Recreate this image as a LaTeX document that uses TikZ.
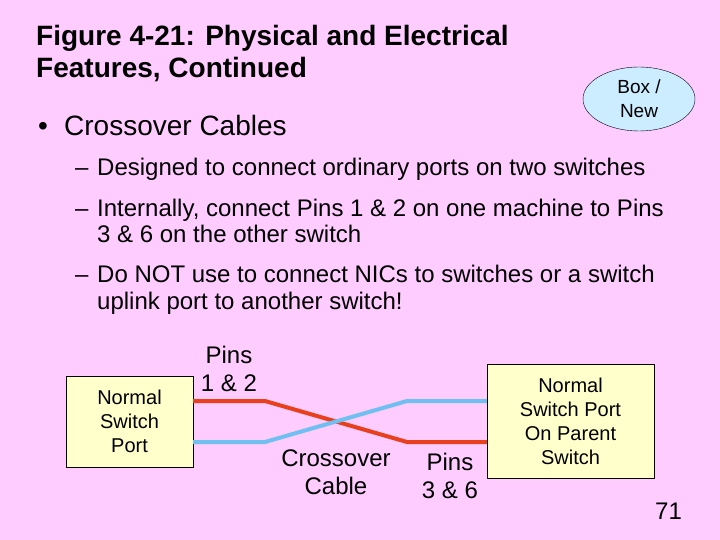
\documentclass[tikz,border=0pt]{standalone}
\usepackage{fontspec}
\setmainfont{Liberation Sans}
\usetikzlibrary{shapes.geometric,positioning}
\definecolor{slidebg}{HTML}{FFCCFF}
\definecolor{portfill}{HTML}{FFFFCC}
\definecolor{notefill}{HTML}{CCECFF}
\definecolor{wirered}{HTML}{E8401C}
\definecolor{wireblue}{HTML}{6FBFF0}
\tikzset{
  every picture/.style={line join=round},
  heading/.style={anchor=base west, inner sep=0pt, font=\fontsize{28}{32}\selectfont\bfseries},
  bigtxt/.style={anchor=base west, inner sep=0pt, font=\fontsize{28}{32}\selectfont},
  subtxt/.style={anchor=base west, inner sep=0pt, font=\fontsize{24}{27}\selectfont},
  label/.style={anchor=base, inner sep=0pt, font=\fontsize{24}{28}\selectfont},
  port/.style={draw=black, fill=portfill, align=center, inner sep=0pt,
    font=\fontsize{20}{24}\selectfont},
  note/.style={ellipse, draw=black, fill=notefill, align=center, inner sep=0pt,
    minimum width=112pt, minimum height=64pt, font=\fontsize{19}{24}\selectfont},
  wire/.style={line width=4pt},
}
\begin{document}
\begin{tikzpicture}[x=1pt,y=-1pt]
    \fill[slidebg] (0,0) rectangle (720,540);
    \useasboundingbox (0,0) rectangle (720,540);

    % Title
    \node[heading] (title1) at (36,46) {Figure 4-21: Physical and Electrical};
    \node[heading] (title2) at (36,78) {Features, Continued};
    \node[note] (boxnew) at (639,99) {Box /\\New};

    % Bullet and sub points
    \node[bigtxt] (dot) at (38,136) {•};
    \node[bigtxt] (cables) at (64,136) {Crossover Cables};
    \foreach \y in {176,216,282} {
        \node[subtxt] at (75,\y) {\textendash};
    }
    \node[subtxt] (sub1) at (97,176) {Designed to connect ordinary ports on two switches};
    \node[subtxt] (sub2) at (97,216) {Internally, connect Pins 1 \& 2 on one machine to Pins};
    \node[subtxt] (sub2b) at (97,243) {3 \& 6 on the other switch};
    \node[subtxt] (sub3) at (97,282) {Do NOT use to connect NICs to switches or a switch};
    \node[subtxt] (sub3b) at (97,309) {uplink port to another switch!};

    % Ports
    \node[port, minimum width=127pt, minimum height=91pt] (lport) at (129.5,421.5) {Normal\\Switch\\Port};
    \node[port, minimum width=167pt, minimum height=114pt] (rport) at (570.5,421.5) {Normal\\Switch Port\\On Parent\\Switch};

    % Crossover wires
    \coordinate (redbend1) at (265,401);
    \coordinate (redbend2) at (407,442);
    \coordinate (bluebend1) at (265,442);
    \coordinate (bluebend2) at (407,401);
    \draw[wire, wirered] ([yshift=20.5pt]lport.east) -- (redbend1) -- (redbend2) -- (redbend2 -| rport.west);
    \draw[wire, wireblue] ([yshift=-20.5pt]lport.east) -- (bluebend1) -- (bluebend2) -- (bluebend2 -| rport.west);

    % Labels
    \node[label] (pinsA) at (229,363) {Pins};
    \node[label] (pinsA2) at (229,391) {1 \& 2};
    \node[label] (cross1) at (336,466) {Crossover};
    \node[label] (cross2) at (336,494) {Cable};
    \node[label] (pinsB) at (450,470) {Pins};
    \node[label] (pinsB2) at (450,498) {3 \& 6};
    \node[subtxt] (pagenum) at (655,519) {71};
\end{tikzpicture}
\end{document}
